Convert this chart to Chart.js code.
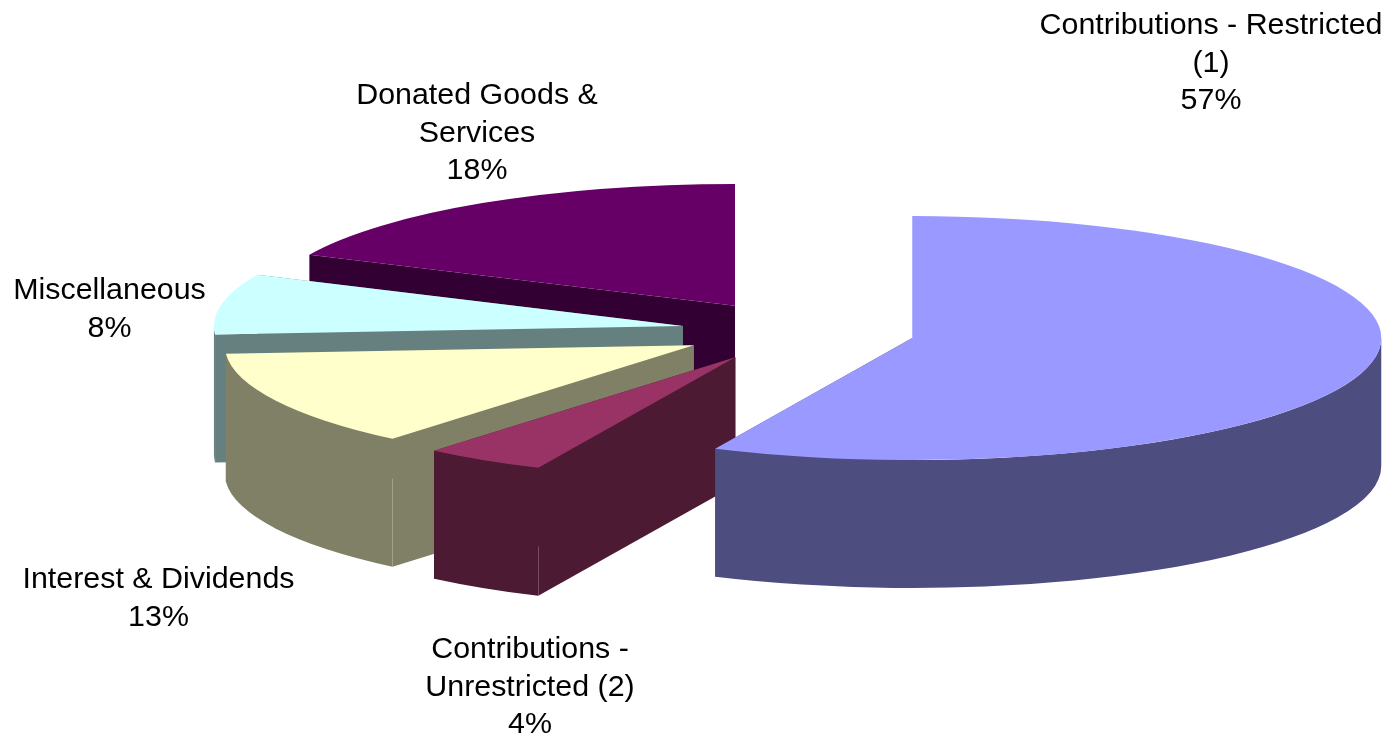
<!DOCTYPE html>
<html>
<head>
<meta charset="utf-8">
<title>Revenue sources</title>
<script src="https://cdn.jsdelivr.net/npm/chart.js@4"></script>
<style>
    html, body { margin: 0; padding: 0; background: #ffffff; }
    canvas { display: block; }
</style>
</head>
<body>
<canvas id="grafica" width="1389" height="737"></canvas>
<script>
var labelLines = [
    ['Contributions - Restricted', '(1)'],
    ['Contributions -', 'Unrestricted (2)'],
    ['Interest & Dividends'],
    ['Miscellaneous'],
    ['Donated Goods &', 'Services']
];
var categories = ['Contributions - Restricted (1)', 'Contributions - Unrestricted (2)', 'Interest & Dividends', 'Miscellaneous', 'Donated Goods & Services'];
var values = [56.9, 4.2, 12.8, 8.0, 18.1];
var topColors = ['#9999FF', '#993366', '#FFFFCC', '#CCFFFF', '#660066'];
var sideColors = ['#4D4D80', '#4D1A33', '#808066', '#668080', '#330033'];

// centro de cada etiqueta (x, y de la primera linea)
var labelSpots = [[1211, 26], [530, 650], [158.5, 580], [109.5, 291], [477, 96]];

var squash = 0.26;    // aplastado vertical de la tarta
var depth = 128;      // grosor en px
var explode = 117;    // separacion de cada porcion
var lineGap = 37.5;

var pie3dPlugin = {
    id: 'pie3d',
    beforeDatasetDraw: function(chart, args) {
        var ctx = chart.ctx;
        var arcs = args.meta.data;

        // aplasta y separa la porcion; lo de dentro va en coordenadas de la tarta plana
        function placeSlice(arc) {
            var mid = (arc.startAngle + arc.endAngle) / 2;
            ctx.translate(arc.x, arc.y);
            ctx.scale(1, squash);
            ctx.translate(-arc.x, -arc.y);
            ctx.translate(Math.cos(mid) * explode, Math.sin(mid) * explode);
        }

        function drawCutFace(arc, angle, d) {
            var ex = arc.x + Math.cos(angle) * arc.outerRadius;
            var ey = arc.y + Math.sin(angle) * arc.outerRadius;
            ctx.beginPath();
            ctx.moveTo(arc.x, arc.y);
            ctx.lineTo(ex, ey);
            ctx.lineTo(ex, ey + d);
            ctx.lineTo(arc.x, arc.y + d);
            ctx.closePath();
            ctx.fill();
        }

        function drawWalls(arc, color) {
            var d = depth / squash;
            // solo la mitad delantera del borde se ve
            var from = Math.max(arc.startAngle, 0);
            var to = Math.min(arc.endAngle, Math.PI);
            ctx.save();
            placeSlice(arc);
            ctx.fillStyle = color;
            drawCutFace(arc, arc.endAngle, d);
            drawCutFace(arc, arc.startAngle, d);
            if (from < to) {
                ctx.beginPath();
                ctx.arc(arc.x, arc.y, arc.outerRadius, from, to);
                ctx.arc(arc.x, arc.y + d, arc.outerRadius, to, from, true);
                ctx.closePath();
                ctx.fill();
            }
            ctx.restore();
        }

        // de atras hacia delante: la primera porcion queda encima
        for (var i = arcs.length - 1; i >= 0; i--) {
            drawWalls(arcs[i], sideColors[i]);
            ctx.save();
            placeSlice(arcs[i]);
            arcs[i].draw(ctx);
            ctx.restore();
        }
        return false;
    },
    afterDatasetsDraw: function(chart) {
        var ctx = chart.ctx;
        ctx.save();
        ctx.fillStyle = '#000000';
        ctx.font = '30.4px "Liberation Sans", Arial, sans-serif';
        ctx.textAlign = 'center';
        ctx.textBaseline = 'middle';
        labelLines.forEach(function(lines, i) {
            var rows = lines.concat(Math.round(values[i]) + '%');
            rows.forEach(function(txt, r) {
                ctx.fillText(txt, labelSpots[i][0], labelSpots[i][1] + r * lineGap);
            });
        });
        ctx.restore();
    }
};

new Chart(document.getElementById('grafica').getContext('2d'), {
    type: 'pie',
    plugins: [pie3dPlugin],
    data: {
        labels: categories,
        datasets: [{
            data: values,
            backgroundColor: topColors,
            borderWidth: 0,
            radius: 469
        }]
    },
    options: {
        responsive: false,
        animation: false,
        events: [],
        layout: { padding: { left: 207, bottom: 74 } },
        plugins: {
            legend: { display: false },
            tooltip: { enabled: false }
        }
    }
});
</script>
</body>
</html>
